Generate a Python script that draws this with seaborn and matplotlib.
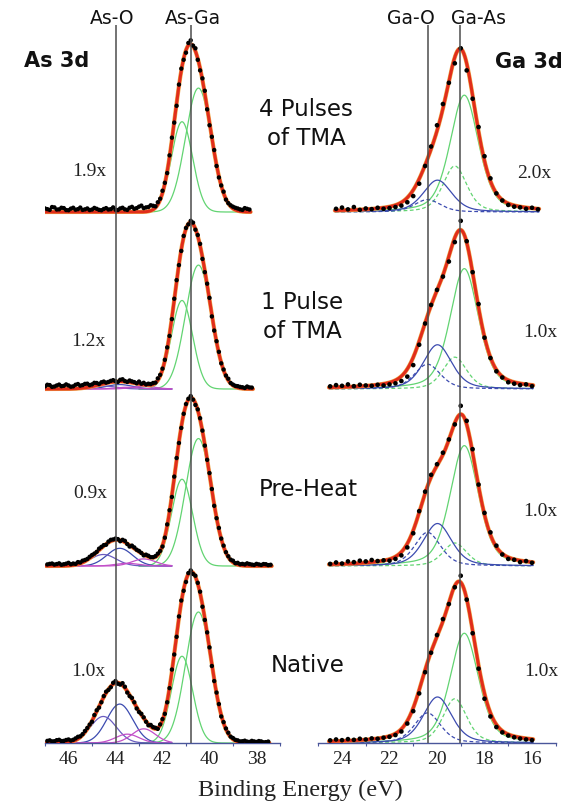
import numpy as np
import pandas as pd
import matplotlib
matplotlib.use("Agg")
import matplotlib.pyplot as plt
import seaborn as sns

sns.set_theme(style="white")
plt.rcParams["font.family"] = ["DejaVu Sans"]
SERIF = ["Liberation Serif", "DejaVu Serif"]
nan = np.nan

# ---- stacked spectra, listed bottom to top ----
conditions = ["Native", "Pre-Heat", "1 Pulse\nof TMA", "4 Pulses\nof TMA"]
as_factors = ["1.0x", "0.9x", "1.2x", "1.9x"]
ga_factors = ["1.0x", "1.0x", "1.0x", "2.0x"]

# ---- As 3d measured intensity (percent of stack spacing), 47.0 -> 37.4 eV, 0.1 eV steps ----
as_energy = np.round(np.arange(47.0, 37.35, -0.1), 1)
as_native = [nan, 1.2, 1.5, 0.9, 1.0, 1.6, 1.8, 1.1, 1.2, 1.7,
             2.0, 1.4, 1.8, 2.6, 3.5, 3.8, 5.0, 6.8, 8.5, 10.4,
             12.0, 15.8, 18.5, 20.0, 23.0, 26.5, 29.0, 30.0, 31.5, 34.0,
             35.0, 33.5, 33.0, 33.8, 31.8, 28.5, 26.5, 25.5, 23.0, 19.5,
             17.5, 16.5, 14.5, 12.0, 10.0, 10.2, 9.0, 8.6, 8.0, 10.5,
             13.5, 16.5, 23.0, 31.0, 41.5, 50.0, 60.0, 71.5, 80.5, 86.0,
             91.0, 96.0, 97.5, 95.5, 94.5, 90.5, 85.5, 77.0, 69.5, 62.5,
             54.0, 43.5, 35.0, 28.5, 22.0, 15.0, 11.8, 8.2, 5.8, 3.6,
             2.8, 1.8, 1.5, 0.9, 1.0, 1.3, 0.8, 0.6, 1.2, 0.9,
             0.6, 1.1, 0.9, 0.4, 0.5, 0.8, nan]
as_preheat = [nan, 0.9, 1.2, 1.4, 0.8, 1.1, 1.5, 0.7, 1.0, 1.3,
              1.8, 1.0, 1.4, 1.2, 2.2, 2.0, 3.0, 3.4, 4.0, 5.2,
              6.2, 7.0, 8.0, 9.8, 10.8, 11.8, 12.0, 13.8, 14.8, 15.0,
              15.5, 15.2, 14.0, 14.8, 14.2, 12.4, 11.0, 11.5, 10.5, 9.2,
              8.5, 7.4, 6.0, 6.4, 5.8, 5.0, 5.0, 5.6, 7.0, 8.5,
              11.0, 16.0, 23.5, 31.5, 39.0, 50.5, 61.0, 69.5, 78.0, 86.0,
              91.5, 94.5, 96.0, 94.0, 91.0, 88.5, 83.5, 76.5, 68.0, 60.0,
              52.5, 43.5, 34.0, 27.0, 21.5, 15.5, 11.5, 7.8, 5.5, 3.6,
              3.0, 1.6, 1.8, 1.0, 1.2, 0.9, 1.5, 1.1, 0.8, 0.6,
              1.2, 0.9, 0.6, 1.1, 1.0, 0.5, 0.7]
as_1pulse = [1.5, 2.4, 2.2, 1.2, 1.4, 2.0, 2.5, 1.6, 1.8, 2.6,
             2.0, 1.3, 1.5, 2.4, 2.8, 1.9, 2.2, 2.9, 3.0, 2.2,
             2.6, 3.5, 3.4, 2.8, 3.8, 4.2, 3.6, 4.0, 4.6, 5.0,
             4.4, 4.0, 5.2, 5.5, 4.5, 4.0, 4.8, 4.3, 3.9, 3.2,
             4.2, 3.0, 3.5, 2.6, 3.0, 2.8, 3.4, 3.6, 6.0, 8.0,
             11.5, 16.5, 23.5, 30.0, 39.5, 51.0, 61.5, 70.0, 78.0, 86.5,
             91.0, 93.0, 95.0, 94.0, 90.0, 87.0, 82.0, 73.5, 66.0, 59.5,
             51.5, 41.0, 33.0, 27.0, 21.0, 14.5, 11.0, 7.6, 5.8, 3.4,
             2.5, 1.8, 1.6, 1.2, 1.0, 0.6, 1.4, 0.9, 0.8, nan,
             nan, nan, nan, nan, nan, nan, nan]
as_4pulse = [2.0, 1.6, 1.2, 2.8, 2.6, 1.4, 1.5, 2.4, 2.2, 1.1,
             1.0, 1.9, 2.4, 1.3, 1.6, 2.5, 1.2, 1.5, 2.0, 1.1,
             1.4, 2.3, 1.8, 1.2, 1.0, 1.7, 2.2, 1.4, 1.6, 2.6,
             1.3, 1.1, 2.0, 2.4, 1.5, 1.2, 2.4, 2.9, 1.8, 2.2,
             3.0, 3.6, 2.2, 2.6, 2.8, 3.8, 3.5, 3.2, 5.5, 7.5,
             12.0, 16.5, 22.0, 32.0, 42.0, 50.5, 60.0, 72.0, 81.0, 86.0,
             90.0, 95.5, 97.0, 94.0, 92.5, 86.0, 80.0, 75.5, 68.5, 58.0,
             49.0, 42.5, 35.0, 26.0, 19.5, 15.0, 11.5, 7.0, 5.0, 3.8,
             3.0, 2.4, 2.0, 1.5, 1.2, 2.2, 1.8, 1.4, nan, nan,
             nan, nan, nan, nan, nan, nan, nan]

# ---- Ga 3d measured intensity, 24.5 -> 15.75 eV, 0.25 eV steps ----
ga_energy = np.round(np.arange(24.5, 15.7, -0.25), 2)
ga_native = [1.5, 2.0, 1.6, 2.2, 1.8, 2.4, 2.0, 2.6, 2.4, 3.0, 3.5, 4.5, 6.5, 11.0, 18.0, 28.0,
             40.0, 51.0, 61.0, 70.0, 78.5, 88.0, 94.5, 81.0, 62.0, 42.0, 25.0, 15.0, 9.0, 6.0, 4.2,
             3.2, 2.5, 2.0, 1.6, nan]
ga_preheat = [1.2, 2.0, 1.4, 2.6, 2.2, 3.0, 2.6, 3.4, 2.8, 3.2, 3.0, 4.0, 6.0, 10.5, 18.5, 31.0,
              42.0, 51.5, 57.5, 64.0, 71.5, 80.0, 90.5, 82.0, 66.0, 46.0, 30.0, 19.0, 11.5, 6.5,
              4.0, 3.5, 2.2, 2.8, 1.8, nan]
ga_1pulse = [1.5, 2.2, 1.8, 2.6, 1.6, 2.4, 2.0, 1.8, 2.4, 2.0, 2.6, 3.2, 4.5, 7.0, 13.5, 25.0,
             37.0, 47.5, 56.0, 63.5, 72.0, 83.0, 95.0, 83.5, 66.0, 48.0, 29.0, 17.5, 10.0, 6.5,
             3.8, 3.0, 2.2, 2.6, 1.6, nan]
ga_4pulse = [nan, 1.8, 2.5, 1.5, 2.8, 1.2, 2.0, 1.6, 2.4, 1.8, 2.2, 2.8, 3.6, 5.5, 9.0, 16.0,
             26.0, 37.0, 49.0, 61.0, 73.0, 84.0, 92.5, 80.0, 64.0, 48.0, 31.5, 19.0, 10.5, 6.5,
             4.0, 3.0, 2.6, 1.8, 2.4, 1.5]

# ---- fit components (pseudo-Voigt: Gaussian/Lorentzian mix) ----
# As 3d: As-Ga doublet, As-O doublet, sub-oxide doublet (pure Gaussian)
as_centers = [40.47, 41.17, 43.82, 44.52, 42.80, 43.50]
as_sigmas = [0.55, 0.45, 0.55, 0.55, 0.50, 0.50]
as_lorentz = 0.0
as_fit_native = [74, 49, 22, 15, 8, 5]
as_fit_preheat = [72, 49, 10, 6.5, 4, 1.5]
as_fit_1pulse = [70, 50, 2.5, 1.7, 1.5, 1.0]
as_fit_4pulse = [70, 51, 0, 0, 0, 0]
# Ga 3d: Ga-As doublet, Ga-O doublet
ga_centers = [18.85, 19.25, 19.98, 20.40]
ga_sigmas = [0.60, 0.50, 0.60, 0.55]
ga_lorentz = 0.4
ga_fit_native = [62, 25, 26, 17]
ga_fit_preheat = [68, 13, 24, 19]
ga_fit_1pulse = [68, 18, 25, 14]
ga_fit_4pulse = [66, 26, 18, 7]

# reference binding energies
as_marks = [44.0, 40.77]
as_mark_labels = ["As-O", "As-Ga"]
ga_marks = [20.37, 19.02]
ga_mark_labels = ["Ga-O", "Ga-As"]

GREEN, BLUE, MAGENTA = "#62d472", "#3c4bb0", "#c24fc8"
RED, ORANGE = "#e12d1b", "#eea548"
as_styles = [(GREEN, "-"), (GREEN, "-"), (BLUE, "-"), ("#6a5cc0", "-"), (MAGENTA, "-"), (MAGENTA, "-")]
as_windows = [(43.0, 37.0), (43.0, 37.0), (47.0, 41.6), (47.0, 41.6), (47.0, 41.6), (47.0, 41.6)]
ga_styles = [(GREEN, "-"), (GREEN, (0, (3, 2))), (BLUE, "-"), (BLUE, (0, (3, 2)))]

W, H = 578, 806
SPACING = 100.0
fig = plt.figure(figsize=(W / 100, H / 100), dpi=100)


def px_axes(x0, x1, y0, y1):
    return fig.add_axes([x0 / W, 1 - y1 / H, (x1 - x0) / W, (y1 - y0) / H])


def peak(x, c, s, h, m):
    d = x - c
    g = np.exp(-d ** 2 / (2 * s * s))
    gam = s * np.sqrt(2 * np.log(2))
    lor = 1.0 / (1.0 + (d / gam) ** 2)
    return h * ((1 - m) * g + m * lor)


def draw_panel(ax, energy, spectra, fits, centers, sigmas, mix, styles, windows, xlim, ticks, dot):
    ax.set_xlim(*xlim)
    ax.set_ylim(0, 718 / 1.77)
    for k, (vals, heights) in enumerate(zip(spectra, fits)):
        off = k * SPACING
        vals = np.asarray(vals, float)
        ok = ~np.isnan(vals)
        e_hi, e_lo = energy[ok].max() + 0.05, energy[ok].min() - 0.05
        xf = np.linspace(e_hi, e_lo, 600)
        env = np.zeros_like(xf)
        for c, s, h in zip(centers, sigmas, heights):
            env += peak(xf, c, s, h, mix)
        # individual components
        for j, (c, s, h) in enumerate(zip(centers, sigmas, heights)):
            if h <= 0:
                continue
            hi, lo = (e_hi, e_lo) if windows is None else windows[j]
            hi, lo = min(hi, e_hi), max(lo, e_lo)
            xc = np.linspace(hi, lo, 400)
            col, ls = styles[j]
            sns.lineplot(x=xc, y=peak(xc, c, s, h, mix) + off, ax=ax, color=col, lw=0.9,
                         linestyle=ls, estimator=None, sort=False, zorder=2)
        # fitted envelope
        sns.lineplot(x=xf, y=env + off, ax=ax, color=ORANGE, lw=3.0, estimator=None,
                     sort=False, zorder=3)
        sns.lineplot(x=xf, y=env + off, ax=ax, color=RED, lw=2.2, estimator=None,
                     sort=False, zorder=4)
        # measured points
        sns.scatterplot(x=energy[ok], y=vals[ok] + off, ax=ax, color="black", s=dot,
                        edgecolor="none", zorder=5)
    for side in ("left", "right", "top"):
        ax.spines[side].set_visible(False)
    ax.spines["bottom"].set_color("#4a569a")
    ax.spines["bottom"].set_linewidth(1.0)
    ax.set_yticks([])
    ax.set_xticks(ticks)
    ax.set_xticks(np.arange(min(ticks) - 1, max(ticks) + 2, 1.0), minor=True)
    ax.tick_params(axis="x", which="major", direction="out", length=4, width=0.9,
                   colors="#4a569a", labelcolor="#222222", pad=2)
    ax.tick_params(axis="x", which="minor", direction="out", length=2.5, width=0.8,
                   colors="#4a569a", bottom=True)
    ax.set_xticklabels([str(t) for t in ticks], fontfamily=SERIF, fontsize=14)
    ax.set_xlabel("")
    ax.set_ylabel("")
    ax.grid(False)


ax_as = px_axes(45, 280, 25, 743)
ax_ga = px_axes(318.25, 555.75, 25, 743)

draw_panel(ax_as, as_energy, [as_native, as_preheat, as_1pulse, as_4pulse],
           [as_fit_native, as_fit_preheat, as_fit_1pulse, as_fit_4pulse],
           as_centers, as_sigmas, as_lorentz, as_styles, as_windows, (47.0, 37.0),
           [46, 44, 42, 40, 38], 10)
draw_panel(ax_ga, ga_energy, [ga_native, ga_preheat, ga_1pulse, ga_4pulse],
           [ga_fit_native, ga_fit_preheat, ga_fit_1pulse, ga_fit_4pulse],
           ga_centers, ga_sigmas, ga_lorentz, ga_styles, None, (25.0, 15.0),
           [24, 22, 20, 18, 16], 11)

for ax, marks in ((ax_as, as_marks), (ax_ga, ga_marks)):
    for m in marks:
        ax.axvline(m, color="#4d4d4d", lw=1.1, zorder=6)


def ptext(x, y, s, **kw):
    fig.text(x / W, 1 - y / H, s, ha="center", va="center", **kw)


for (x, lab) in zip([112, 193], as_mark_labels):
    ptext(x, 19, lab, fontsize=13.5, color="#111111")
for (x, lab) in zip([411, 478], ga_mark_labels):
    ptext(x, 19, lab, fontsize=13.5, color="#111111")

ptext(57, 61, "As 3d", fontsize=15, fontweight="bold", color="#111111")
ptext(529, 62, "Ga 3d", fontsize=15, fontweight="bold", color="#111111")

cond_xy = [(308, 665), (308, 489), (302, 317), (306, 124)]
for (x, y), lab in zip(cond_xy, conditions):
    ptext(x, y, lab, fontsize=16.5, color="#111111", linespacing=1.35)

for (x, y), lab in zip([(88, 671), (90, 493), (88, 341), (89, 172)], as_factors):
    ptext(x, y, lab, fontsize=14, fontfamily=SERIF, color="#222222")
for (x, y), lab in zip([(541, 671), (540, 511), (540, 333), (534, 173)], ga_factors):
    ptext(x, y, lab, fontsize=14, fontfamily=SERIF, color="#222222")

ptext(300, 790, "Binding Energy (eV)", fontsize=17.5, fontfamily=SERIF, color="#222222")

fig.savefig("out.png", dpi=100)
